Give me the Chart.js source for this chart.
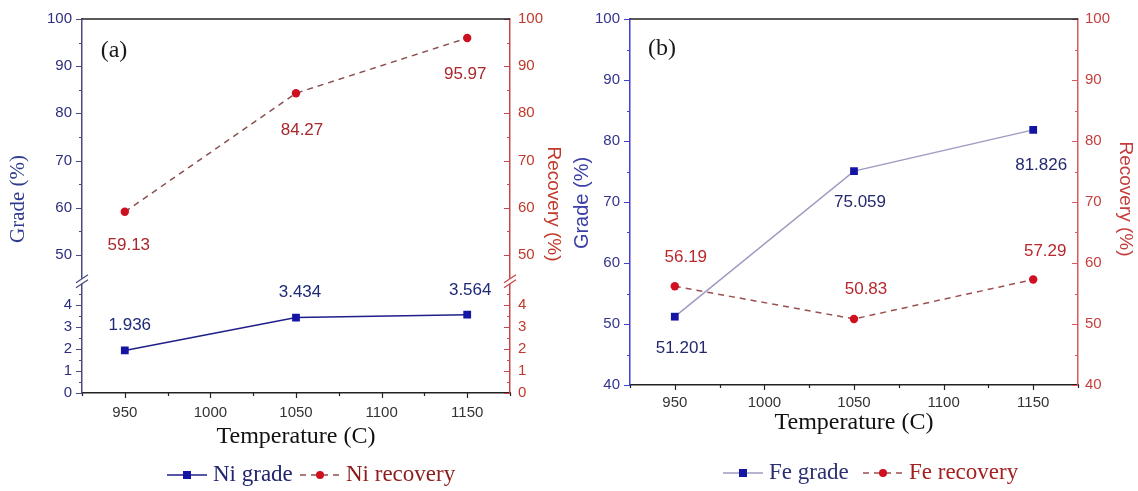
<!DOCTYPE html>
<html>
<head>
<meta charset="utf-8">
<script src="https://cdn.jsdelivr.net/npm/chart.js@4.4.1/dist/chart.umd.min.js"></script>
<style>
  html, body { margin: 0; padding: 0; background: #fff; }
  .panel { position: absolute; top: 0; width: 569px; height: 491px; }
  #panelA { left: 0; }
  #panelB { left: 569px; }
</style>
</head>
<body>
<div class="panel" id="panelA"><canvas id="chartA"></canvas></div>
<div class="panel" id="panelB"><canvas id="chartB"></canvas></div>
<script>
// roasting temperature (C) and tick positions on the x axis
var temperatures = [950, 1050, 1150];
var tempTicks = [950, 1000, 1050, 1100, 1150];

// nickel concentrate (a)
var niGrade = [1.936, 3.434, 3.564];
var niRecovery = [59.13, 84.27, 95.97];

// iron concentrate (b)
var feGrade = [51.201, 75.059, 81.826];
var feRecovery = [56.19, 50.83, 57.29];

// y tick labels
var upperTicksA = [50, 60, 70, 80, 90, 100];
var lowerTicksA = [0, 1, 2, 3, 4];
var ticksB = [40, 50, 60, 70, 80, 90, 100];

var SANS = '"Liberation Sans", Arial, sans-serif';
var SERIF = '"Liberation Serif", "Times New Roman", serif';

Chart.defaults.font.family = SANS;
Chart.defaults.color = '#333';

function toPoints(values) {
    return temperatures.map(function (t, i) { return { x: t, y: values[i] }; });
}

function fixedTicks(values) {
    return function (scale) {
        scale.ticks = values.map(function (v) { return { value: v }; });
    };
}

function plainNumber(v) {
    return String(v);
}

function xAxis(height, labelPad, titlePad) {
    return {
        type: 'linear',
        position: 'bottom',
        min: 925,
        max: 1175,
        afterBuildTicks: fixedTicks(tempTicks),
        afterFit: function (s) { s.height = height; },
        grid: { drawOnChartArea: false, drawTicks: false },
        border: { color: '#222', width: 1.5 },
        ticks: { color: '#333', font: { size: 15 }, padding: labelPad, autoSkip: false, maxRotation: 0, callback: plainNumber },
        title: {
            display: true,
            text: 'Temperature (C)',
            color: '#111',
            font: { family: SERIF, size: 24 },
            padding: { top: 0, bottom: titlePad }
        }
    };
}

function yAxis(o) {
    var s = {
        type: 'linear',
        position: o.position,
        min: o.min,
        max: o.max,
        afterBuildTicks: fixedTicks(o.ticks),
        afterFit: function (sc) { sc.width = o.width; },
        grid: { drawOnChartArea: false, drawTicks: false },
        border: { color: o.axisColor, width: 1.5 },
        ticks: { color: o.labelColor, font: { size: 15 }, padding: o.padding, autoSkip: false, callback: plainNumber }
    };
    if (o.stack) {
        s.stack = o.stack;
        s.stackWeight = o.weight;
    }
    return s;
}

// major + minor tick marks (right axes point inward, so drawn by hand)
var tickMarks = {
    id: 'tickMarks',
    afterDraw: function (chart, args, opts) {
        var ctx = chart.ctx;
        var axes = opts.axes || {};
        Object.keys(axes).forEach(function (id) {
            var scale = chart.scales[id];
            var cfg = axes[id];
            if (!scale) return;
            var majors = scale.ticks.map(function (t) { return t.value; });
            var from = cfg.minorFrom != null ? cfg.minorFrom : scale.min;
            var to = cfg.minorTo != null ? cfg.minorTo : scale.max;
            var minors = [];
            for (var k = Math.ceil(from / cfg.minor - 1e-9); k * cfg.minor <= to + 1e-9; k++) {
                var v = +(k * cfg.minor).toFixed(6);
                if (majors.indexOf(v) < 0) minors.push(v);
            }
            ctx.save();
            ctx.strokeStyle = scale.options.border.color;
            ctx.lineWidth = 1.2;
            ctx.beginPath();
            var mark = function (v, len) {
                var p = Math.round(scale.getPixelForValue(v)) + 0.5;
                if (scale.isHorizontal()) {
                    ctx.moveTo(p, scale.top);
                    ctx.lineTo(p, scale.top + cfg.dir * len);
                } else {
                    var x0 = scale.position === 'left' ? scale.right : scale.left;
                    ctx.moveTo(x0, p);
                    ctx.lineTo(x0 + cfg.dir * len, p);
                }
            };
            majors.forEach(function (v) { mark(v, cfg.major); });
            minors.forEach(function (v) { mark(v, cfg.minorLen); });
            ctx.stroke();
            ctx.restore();
        });
    }
};

// "//" marks where the y axes are broken
var axisBreak = {
    id: 'axisBreak',
    afterDraw: function (chart, args, opts) {
        if (!opts.scale) return;
        var s = chart.scales[opts.scale];
        var a = chart.chartArea;
        var ctx = chart.ctx;
        var y = s.bottom - 2;
        [a.left, a.right].forEach(function (x, i) {
            ctx.save();
            ctx.fillStyle = '#fff';
            ctx.fillRect(x - 2, y - 2.5, 4, 5);
            ctx.strokeStyle = opts.colors[i];
            ctx.lineWidth = 1.3;
            ctx.beginPath();
            [-2.5, 2.5].forEach(function (d) {
                ctx.moveTo(x - 6, y + d + 4);
                ctx.lineTo(x + 6, y + d - 4);
            });
            ctx.stroke();
            ctx.restore();
        });
    }
};

// value labels next to each point
var pointLabels = {
    id: 'pointLabels',
    afterDatasetsDraw: function (chart, args, opts) {
        var ctx = chart.ctx;
        (opts.sets || []).forEach(function (cfg) {
            var meta = chart.getDatasetMeta(cfg.dataset);
            var ds = chart.data.datasets[cfg.dataset];
            ctx.save();
            ctx.font = '17px ' + SANS;
            ctx.fillStyle = cfg.color;
            ctx.textAlign = 'center';
            ctx.textBaseline = 'middle';
            meta.data.forEach(function (pt, i) {
                var off = cfg.offsets[i];
                ctx.fillText(String(ds.data[i].y), pt.x + off[0], pt.y + off[1]);
            });
            ctx.restore();
        });
    }
};

// frame top line, axis titles, panel tag and the legend row
var panelText = {
    id: 'panelText',
    afterDraw: function (chart, args, opts) {
        var ctx = chart.ctx;
        var a = chart.chartArea;

        ctx.save();
        ctx.strokeStyle = '#222';
        ctx.lineWidth = 1.5;
        ctx.beginPath();
        ctx.moveTo(a.left, a.top);
        ctx.lineTo(a.right, a.top);
        ctx.stroke();
        ctx.restore();

        (opts.texts || []).forEach(function (t) {
            ctx.save();
            ctx.translate(t.x, t.y);
            ctx.rotate((t.rotate || 0) * Math.PI / 180);
            ctx.font = t.font;
            ctx.fillStyle = t.color;
            ctx.textAlign = 'center';
            ctx.textBaseline = 'middle';
            ctx.fillText(t.text, 0, 0);
            ctx.restore();
        });

        (opts.legend || []).forEach(function (item) {
            var ds = chart.data.datasets[item.dataset];
            var y = opts.legendY;
            ctx.save();
            ctx.strokeStyle = ds.borderColor;
            ctx.lineWidth = ds.borderWidth;
            ctx.setLineDash(ds.borderDash || []);
            ctx.beginPath();
            ctx.moveTo(item.x, y);
            ctx.lineTo(item.x + 40, y);
            ctx.stroke();
            ctx.setLineDash([]);
            ctx.fillStyle = ds.pointBackgroundColor;
            if (ds.pointStyle === 'rect') {
                ctx.fillRect(item.x + 16, y - 4, 8, 8);
            } else {
                ctx.beginPath();
                ctx.arc(item.x + 20, y, 4, 0, Math.PI * 2);
                ctx.fill();
            }
            ctx.font = '23px ' + SERIF;
            ctx.fillStyle = item.color;
            ctx.textAlign = 'left';
            ctx.textBaseline = 'middle';
            ctx.fillText(ds.label, item.x + 46, y);
            ctx.restore();
        });
    }
};

var plugins = [tickMarks, axisBreak, pointLabels, panelText];

// (a) Ni grade / recovery, broken y axes
new Chart(document.getElementById('chartA'), {
    type: 'line',
    data: {
        datasets: [{
            label: 'Ni grade',
            data: toPoints(niGrade),
            yAxisID: 'yLoL',
            borderColor: '#1f1f8a',
            borderWidth: 1.5,
            pointStyle: 'rect',
            pointRadius: 5.5,
            pointBorderWidth: 0,
            pointBackgroundColor: '#1414a5'
        }, {
            label: 'Ni recovery',
            data: toPoints(niRecovery),
            yAxisID: 'yHiR',
            borderColor: '#8a5050',
            borderWidth: 1.5,
            borderDash: [6, 5],
            pointStyle: 'circle',
            pointRadius: 4.2,
            pointBorderWidth: 0,
            pointBackgroundColor: '#cc1020'
        }]
    },
    options: {
        responsive: true,
        maintainAspectRatio: false,
        animation: false,
        devicePixelRatio: 1,
        layout: { padding: { top: 15, left: 0, right: 0, bottom: 0 } },
        scales: {
            x: xAxis(98, 11, 40),
            yLoL: yAxis({ position: 'left', stack: 'left', weight: 111, min: 0, max: 5, ticks: lowerTicksA,
                width: 82, axisColor: '#4a4a7c', labelColor: '#2d2d80', padding: 10 }),
            yHiL: yAxis({ position: 'left', stack: 'left', weight: 267, min: 44, max: 100, ticks: upperTicksA,
                width: 82, axisColor: '#4a4a7c', labelColor: '#2d2d80', padding: 10 }),
            yHiR: yAxis({ position: 'right', stack: 'right', weight: 267, min: 44, max: 100, ticks: upperTicksA,
                width: 59, axisColor: '#c9474c', labelColor: '#c0392b', padding: 8 }),
            yLoR: yAxis({ position: 'right', stack: 'right', weight: 111, min: 0, max: 5, ticks: lowerTicksA,
                width: 59, axisColor: '#c9474c', labelColor: '#c0392b', padding: 8 })
        },
        plugins: {
            legend: { display: false },
            tooltip: { enabled: false },
            tickMarks: {
                axes: {
                    x: { minor: 25, dir: 1, major: 5, minorLen: 3 },
                    yHiL: { minor: 5, dir: -1, major: 6, minorLen: 3, minorFrom: 50 },
                    yLoL: { minor: 0.5, dir: -1, major: 6, minorLen: 3, minorTo: 4.5 },
                    yHiR: { minor: 5, dir: -1, major: 6, minorLen: 3, minorFrom: 50 },
                    yLoR: { minor: 0.5, dir: -1, major: 6, minorLen: 3, minorTo: 4.5 }
                }
            },
            axisBreak: { scale: 'yHiL', colors: ['#4a4a7c', '#c9474c'] },
            pointLabels: {
                sets: [
                    { dataset: 0, color: '#1f2a78', offsets: [[5, -25], [4, -25], [3, -24]] },
                    { dataset: 1, color: '#a8282c', offsets: [[4, 34], [6, 37], [-2, 36]] }
                ]
            },
            panelText: {
                texts: [
                    { text: '(a)', x: 114, y: 51, font: '24px ' + SERIF, color: '#1a1a1a' },
                    { text: 'Grade (%)', x: 18, y: 199, rotate: -90, font: '21px ' + SERIF, color: '#2e3b8f' },
                    { text: 'Recovery (%)', x: 553, y: 204, rotate: 90, font: '19px ' + SANS, color: '#c0392b' }
                ],
                legendY: 475,
                legend: [
                    { dataset: 0, x: 167, color: '#1f2570' },
                    { dataset: 1, x: 300, color: '#8c1c1c' }
                ]
            }
        }
    },
    plugins: plugins
});

// (b) Fe grade / recovery
new Chart(document.getElementById('chartB'), {
    type: 'line',
    data: {
        datasets: [{
            label: 'Fe grade',
            data: toPoints(feGrade),
            yAxisID: 'y',
            borderColor: '#9c9cc2',
            borderWidth: 1.5,
            pointStyle: 'rect',
            pointRadius: 5.5,
            pointBorderWidth: 0,
            pointBackgroundColor: '#1515a5'
        }, {
            label: 'Fe recovery',
            data: toPoints(feRecovery),
            yAxisID: 'y2',
            borderColor: '#9a5050',
            borderWidth: 1.5,
            borderDash: [6, 5],
            pointStyle: 'circle',
            pointRadius: 4.2,
            pointBorderWidth: 0,
            pointBackgroundColor: '#d01020'
        }]
    },
    options: {
        responsive: true,
        maintainAspectRatio: false,
        animation: false,
        devicePixelRatio: 1,
        layout: { padding: { top: 15, left: 0, right: 0, bottom: 0 } },
        scales: {
            x: xAxis(106, 9, 54),
            y: yAxis({ position: 'left', min: 40, max: 100, ticks: ticksB,
                width: 61, axisColor: '#4040cc', labelColor: '#34348c', padding: 10 }),
            y2: yAxis({ position: 'right', min: 40, max: 100, ticks: ticksB,
                width: 60, axisColor: '#d85a5f', labelColor: '#c4403f', padding: 7 })
        },
        plugins: {
            legend: { display: false },
            tooltip: { enabled: false },
            tickMarks: {
                axes: {
                    x: { minor: 25, dir: 1, major: 5, minorLen: 3 },
                    y: { minor: 5, dir: -1, major: 6, minorLen: 3 },
                    y2: { minor: 5, dir: -1, major: 6, minorLen: 3 }
                }
            },
            pointLabels: {
                sets: [
                    { dataset: 0, color: '#25296e', offsets: [[7, 32], [6, 31], [8, 35]] },
                    { dataset: 1, color: '#b8282c', offsets: [[11, -29], [12, -30], [12, -28]] }
                ]
            },
            panelText: {
                texts: [
                    { text: '(b)', x: 93, y: 49, font: '24px ' + SERIF, color: '#1a1a1a' },
                    { text: 'Grade (%)', x: 13, y: 203, rotate: -90, font: '20px ' + SANS, color: '#3b3fa6' },
                    { text: 'Recovery (%)', x: 556, y: 199, rotate: 90, font: '19px ' + SANS, color: '#c43c3c' }
                ],
                legendY: 473,
                legend: [
                    { dataset: 0, x: 154, color: '#2b3070' },
                    { dataset: 1, x: 294, color: '#a52020' }
                ]
            }
        }
    },
    plugins: plugins
});
</script>
</body>
</html>
